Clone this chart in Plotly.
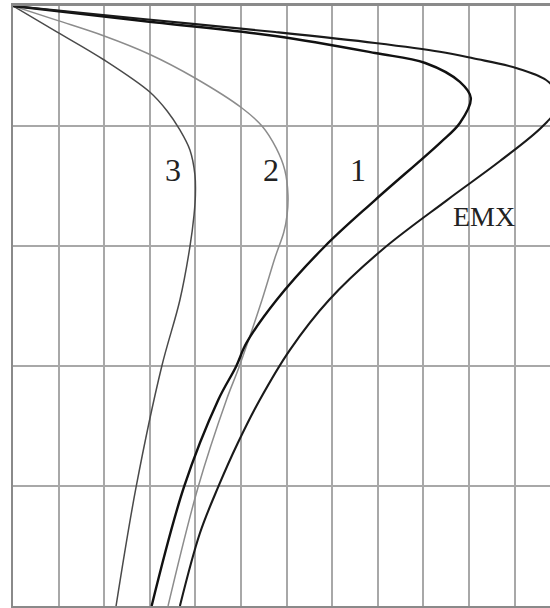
import plotly.graph_objects as go

# Profiles: horizontal value vs depth (depth increases downward), in grid units
emx_x = [0, 2.85, 5.75, 7.94, 9.36, 10.09, 11.05, 11.78, 11.97, 11.62, 10.68, 9.52, 8.09, 6.93, 6.07, 5.41, 4.93, 4.50, 4.10, 3.66]
emx_y = [0, 0.108, 0.217, 0.308, 0.381, 0.436, 0.519, 0.644, 0.825, 1.0, 1.292, 1.617, 2.033, 2.45, 2.867, 3.283, 3.642, 4.008, 4.392, 5.0]

c1_x = [0, 2.85, 5.75, 7.94, 9.04, 9.80, 10.04, 9.80, 9.36, 7.94, 6.83, 5.78, 5.12, 4.89, 4.50, 3.75, 3.04]
c1_y = [0, 0.125, 0.25, 0.392, 0.475, 0.633, 0.767, 0.975, 1.142, 1.617, 2.006, 2.45, 2.808, 3.006, 3.283, 4.008, 5.0]

c2_x = [0, 0.97, 2.0, 2.98, 3.99, 5.02, 5.46, 5.77, 5.96, 6.03, 6.01, 5.94, 5.75, 5.46, 4.96, 4.68, 4.06, 3.40]
c2_y = [0, 0.12, 0.25, 0.40, 0.60, 0.85, 1.0, 1.183, 1.367, 1.575, 1.742, 1.883, 2.092, 2.45, 3.006, 3.283, 4.008, 5.0]

c3_x = [0, 0.97, 2.0, 3.0, 3.38, 3.66, 3.88, 3.99, 4.0, 3.97, 3.88, 3.66, 3.26, 2.70, 2.26]
c3_y = [0, 0.217, 0.45, 0.717, 0.875, 1.033, 1.2, 1.408, 1.575, 1.742, 2.006, 2.45, 3.006, 4.008, 5.0]

labels = ["3", "2", "1", "EMX"]
label_x = [3.51, 5.65, 7.57, 10.33]
label_y = [1.367, 1.367, 1.367, 1.75]
label_sizes = [32, 32, 32, 28]

fig = go.Figure()

series = [
    (c3_x, c3_y, "#4a4a4a", 1.5),
    (c2_x, c2_y, "#8c8c8c", 1.5),
    (c1_x, c1_y, "#111111", 2.4),
    (emx_x, emx_y, "#1a1a1a", 2.1),
]
for xs, ys, col, w in series:
    fig.add_trace(go.Scatter(
        x=xs, y=ys, mode="lines",
        line=dict(color=col, width=w, shape="spline", smoothing=1.0),
        hoverinfo="skip", showlegend=False,
    ))

for t, lx, ly, sz in zip(labels, label_x, label_y, label_sizes):
    fig.add_annotation(
        x=lx, y=ly, text=t, showarrow=False,
        font=dict(family="Liberation Serif", size=sz, color="#222222"),
    )

fig.update_xaxes(
    range=[0, 537 / 45.6], dtick=1, tick0=0,
    showgrid=True, gridcolor="#a8a8a8", gridwidth=2,
    showline=True, linecolor="#8a8a8a", linewidth=3, mirror=True,
    showticklabels=False, ticks="", zeroline=False,
)
fig.update_yaxes(
    range=[5, 0], dtick=1, tick0=0,
    showgrid=True, gridcolor="#a8a8a8", gridwidth=2,
    showline=True, linecolor="#8a8a8a", linewidth=2,
    showticklabels=False, ticks="", zeroline=False,
)

fig.update_layout(
    width=550, height=608,
    margin=dict(l=13, r=0, t=6, b=2),
    plot_bgcolor="white", paper_bgcolor="white",
)

fig.write_html("out.html")
